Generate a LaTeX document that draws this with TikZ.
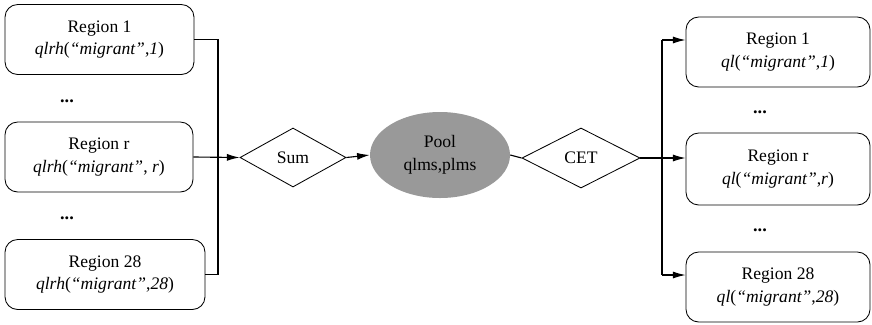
\documentclass[tikz,border=0pt]{standalone}
\usepackage{fontspec}
\setmainfont{Liberation Serif}
\usepackage{tikz}
\usetikzlibrary{shapes.geometric,arrows.meta}

\begin{document}
\begin{tikzpicture}[
			x=0.025cm, y=-0.025cm,
			% Define the styles for the nodes
			every node/.style={font=\fontsize{12.5}{16}\selectfont, align=center},
			region/.style={draw, semithick, rounded corners=9pt, inner sep=0pt, minimum width=#1*0.025cm, minimum height=70*0.025cm},
			region/.default=188,
			decision/.style={draw, semithick, diamond, inner sep=0pt},
			pool/.style={ellipse, fill=black!40, inner sep=0pt, minimum width=140*0.025cm, minimum height=86*0.025cm},
			dotsnode/.style={inner sep=0pt, font=\fontsize{13}{15}\bfseries},
			>={Latex[length=9pt,width=5pt]}
			]
			\useasboundingbox (0,0) rectangle (872,324);
			
			% regions on the left
			\node (l1) at (99.5,39.5) [region=189] {Region 1\\\textit{qlrh}(\textit{“migrant”},\textit{1})};
			\node (ld1) at (67,101) [dotsnode] {...};
			\node (lr) at (99,157) [region] {Region r\\\textit{qlrh}(\textit{“migrant”}, \textit{r})};
			\node (ld2) at (67,218) [dotsnode] {...};
			\node (l28) at (105,274.5) [region=200] {Region 28\\\textit{qlrh}(\textit{“migrant”},\textit{28})};
			
			% sum, pool and CET
			\node (sum) at (293,157.5) [decision, minimum width=106*0.025cm, minimum height=59*0.025cm] {Sum};
			\node (pool) at (440,155) [pool] {Pool\\qlms,plms};
			\node (cet) at (581,158) [decision, minimum width=118*0.025cm, minimum height=60*0.025cm] {CET};
			
			% regions on the right
			\node (r1) at (778,52) [region=184] {Region 1\\\textit{ql}(\textit{“migrant”},\textit{1})};
			\node (rd1) at (760,112) [dotsnode] {...};
			\node (rr) at (778,169) [region=184, minimum height=72*0.025cm] {Region r\\\textit{ql}(\textit{“migrant”},\textit{r})};
			\node (rd2) at (760,230) [dotsnode] {...};
			\node (r28) at (778,287) [region=184] {Region 28\\\textit{ql}(\textit{“migrant”},\textit{28})};
			
			\coordinate (lbus) at (218,157);
			\coordinate (rtop) at (662,40);
			\coordinate (rbot) at (662,275);
			
			\draw[thick] (l1.east) -| (lbus) |- (l28.east);
			\draw[thick,->] (lr.east) -- (sum.west);
			\draw[thick,->] (sum.east) -- (pool.west);
			\draw[thick] (pool.east) -- (cet.west);
			
			\draw[thick,->] (cet.east) -- (cet.east -| rr.west);
			\draw[thick] (rtop) -- (rbot);
			\draw[thick,->] (rtop) -- (rtop -| r1.west);
			\draw[thick,->] (rbot) -- (rbot -| r28.west);
			
		\end{tikzpicture}
\end{document}
